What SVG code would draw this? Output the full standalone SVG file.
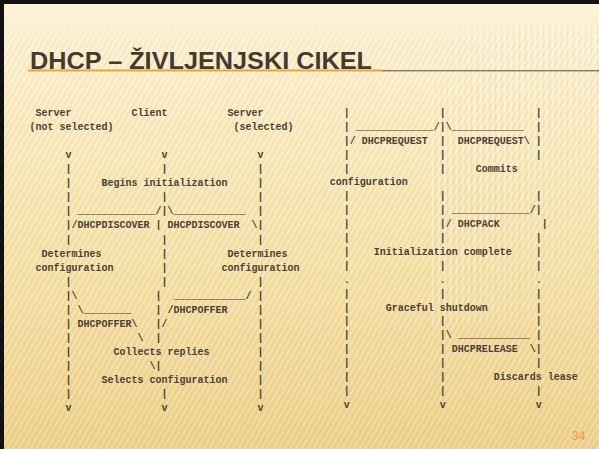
<svg xmlns="http://www.w3.org/2000/svg" width="599" height="449" viewBox="0 0 599 449">
<defs>
<linearGradient id="bg" x1="0" y1="0" x2="0" y2="1">
<stop offset="0" stop-color="#fdf3d6"/>
<stop offset="0.2" stop-color="#faecc2"/>
<stop offset="0.55" stop-color="#f5e1a6"/>
<stop offset="1" stop-color="#edcf88"/>
</linearGradient>
<pattern id="hatch" width="5" height="12" patternUnits="userSpaceOnUse" patternTransform="rotate(30)">
<rect x="0" y="0" width="1.3" height="12" fill="#ffffff" opacity="0.45"/>
<rect x="2.6" y="0" width="0.8" height="12" fill="#c9a85a" opacity="0.18"/>
</pattern>
<pattern id="vert" width="6" height="10" patternUnits="userSpaceOnUse">
<rect x="0" y="0" width="1.5" height="10" fill="#ffffff" opacity="0.4"/>
<rect x="3" y="0" width="0.8" height="10" fill="#c9a85a" opacity="0.15"/>
</pattern>
<linearGradient id="fadeTop" x1="0" y1="0" x2="0" y2="1">
<stop offset="0" stop-color="#fff" stop-opacity="0"/>
<stop offset="0.06" stop-color="#fff" stop-opacity="1"/>
<stop offset="1" stop-color="#fff" stop-opacity="0.7"/>
</linearGradient>
<mask id="hm"><rect x="0" y="20" width="599" height="429" fill="url(#fadeTop)"/></mask>
<linearGradient id="vfade" x1="0" y1="0" x2="1" y2="1">
<stop offset="0" stop-color="#fff" stop-opacity="0"/>
<stop offset="0.3" stop-color="#fff" stop-opacity="0.9"/>
<stop offset="1" stop-color="#fff" stop-opacity="0"/>
</linearGradient>
<mask id="vm"><rect x="430" y="25" width="169" height="300" fill="url(#vfade)"/></mask>
<style>
.m{font-family:"Liberation Mono","Courier New",monospace;font-size:10px;font-weight:bold;fill:#4d4135;white-space:pre}
.t{font-family:"Liberation Sans",Arial,sans-serif;font-size:24px;font-weight:bold;fill:#46392d}
.pg{font-family:"Liberation Sans",Arial,sans-serif;font-size:12px;fill:#e39b45}
</style>
</defs>

<g id="background">
<rect x="0" y="0" width="599" height="449" fill="url(#bg)"/>
<rect x="0" y="20" width="599" height="429" fill="url(#hatch)" mask="url(#hm)"/>
<rect x="430" y="25" width="169" height="300" fill="url(#vert)" mask="url(#vm)"/>
<rect x="0" y="0" width="599" height="4" fill="#111"/>
<rect x="0" y="0" width="4" height="449" fill="#111"/>
</g>

<g id="title">
<line x1="28" y1="70.5" x2="382" y2="70.5" stroke="#eba33c" stroke-width="2.2"/>
<line x1="382" y1="70.8" x2="599" y2="70.8" stroke="#5a4b3c" stroke-width="1"/>
<text class="t" x="30" y="68.5" textLength="342" lengthAdjust="spacingAndGlyphs">DHCP – ŽIVLJENJSKI CIKEL</text>
</g>

<g id="left-diagram" xml:space="preserve">
<text class="m" x="35.5" y="116.0">Server          Client          Server</text>
<text class="m" x="29.5" y="130.06">(not selected)                    (selected)</text>
<text class="m" x="65.5" y="158.18">v               v               v</text>
<text class="m" x="65.5" y="172.24">|               |               |</text>
<text class="m" x="65.5" y="186.3">|     Begins initialization     |</text>
<text class="m" x="65.5" y="200.36">|               |               |</text>
<text class="m" x="65.5" y="214.42">| _____________/|\____________  |</text>
<text class="m" x="65.5" y="228.48">|/DHCPDISCOVER | DHCPDISCOVER  \|</text>
<text class="m" x="65.5" y="242.54">|               |               |</text>
<text class="m" x="41.5" y="256.6">Determines          |          Determines</text>
<text class="m" x="35.5" y="270.66">configuration        |         configuration</text>
<text class="m" x="65.5" y="284.72">|               |               |</text>
<text class="m" x="65.5" y="298.78">|\             |  ____________/ |</text>
<text class="m" x="65.5" y="312.84">| \________    | /DHCPOFFER     |</text>
<text class="m" x="65.5" y="326.9">| DHCPOFFER\   |/               |</text>
<text class="m" x="65.5" y="340.96">|           \  |                |</text>
<text class="m" x="65.5" y="355.02">|       Collects replies        |</text>
<text class="m" x="65.5" y="369.08">|             \|                |</text>
<text class="m" x="65.5" y="383.14">|     Selects configuration     |</text>
<text class="m" x="65.5" y="397.2">|               |               |</text>
<text class="m" x="65.5" y="411.26">v               v               v</text>
</g>

<g id="right-diagram" xml:space="preserve">
<text class="m" x="343.7" y="115.9">|               |               |</text>
<text class="m" x="343.7" y="129.8">| _____________/|\____________  |</text>
<text class="m" x="343.7" y="143.7">|/ DHCPREQUEST  |  DHCPREQUEST\ |</text>
<text class="m" x="343.7" y="157.6">|               |               |</text>
<text class="m" x="343.7" y="171.5">|               |     Commits</text>
<text class="m" x="329.7" y="185.4">configuration</text>
<text class="m" x="343.7" y="199.3">|               |               |</text>
<text class="m" x="343.7" y="213.2">|               | _____________/|</text>
<text class="m" x="343.7" y="227.1">|               |/ DHCPACK       |</text>
<text class="m" x="343.7" y="241.0">|               |               |</text>
<text class="m" x="343.7" y="254.9">|    Initialization complete    |</text>
<text class="m" x="343.7" y="268.8">|               |               |</text>
<text class="m" x="343.7" y="282.7">.               .               .</text>
<text class="m" x="343.7" y="296.6">|               |               |</text>
<text class="m" x="343.7" y="310.5">|      Graceful shutdown        |</text>
<text class="m" x="343.7" y="324.4">|               |               |</text>
<text class="m" x="343.7" y="338.3">|               |\ ____________ |</text>
<text class="m" x="343.7" y="352.2">|               | DHCPRELEASE  \|</text>
<text class="m" x="343.7" y="366.1">|               |               |</text>
<text class="m" x="343.7" y="380.0">|               |        Discards lease</text>
<text class="m" x="343.7" y="393.9">|               |               |</text>
<text class="m" x="343.7" y="407.8">v               v               v</text>
</g>

<g id="connectors"></g>

<g id="footer">
<text class="pg" x="572" y="439.5">34</text>
</g>
</svg>
